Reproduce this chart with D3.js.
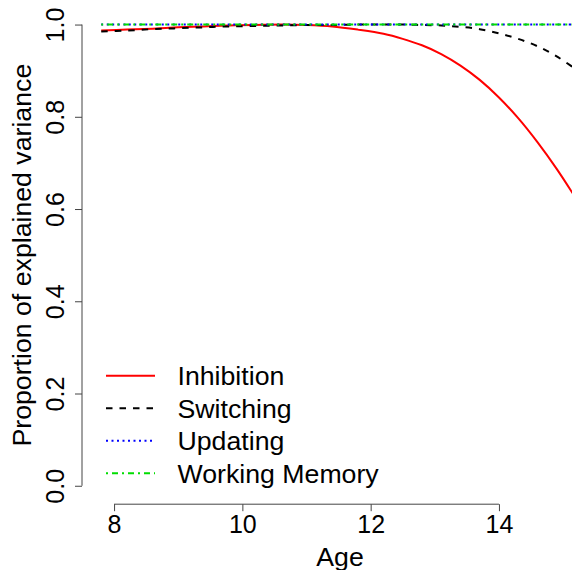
<!DOCTYPE html>
<html>
<head>
<meta charset="utf-8">
<script src="https://cdn.jsdelivr.net/npm/d3@7"></script>
<style>
  html, body { margin: 0; padding: 0; background: #fff; }
  svg { display: block; }
  text { font-family: "Liberation Sans", Arial, Helvetica, sans-serif; fill: #000; }
</style>
</head>
<body>
<svg id="chart" width="572" height="570"></svg>
<script>
// ---- data ----
const ages = [7.8, 8.2, 8.6, 9.0, 9.4, 9.8, 10.2, 10.6, 11.0, 11.4, 11.8, 12.2,
              12.5, 12.8, 13.1, 13.4, 13.7, 14.0, 14.3, 14.6, 14.9, 15.2];
const inhibition = [0.987, 0.989, 0.991, 0.994, 0.996, 0.998, 0.999, 1.000, 0.999, 0.996, 0.989, 0.980,
                    0.969, 0.955, 0.936, 0.911, 0.880, 0.842, 0.797, 0.745, 0.687, 0.623];
const switching = [0.985, 0.987, 0.990, 0.992, 0.994, 0.996, 0.997, 0.998, 0.999, 0.999, 1.000, 1.000,
                   1.000, 0.999, 0.998, 0.995, 0.990, 0.981, 0.969, 0.953, 0.931, 0.903];
const updating = [1.000, 1.000, 1.000, 1.000, 1.000, 1.000, 1.000, 1.000, 1.000, 1.000, 1.000, 1.000,
                  1.000, 1.000, 1.000, 1.000, 1.000, 1.000, 1.000, 1.000, 1.000, 1.000];
const workingMemory = [1.000, 1.000, 1.000, 1.000, 1.000, 1.000, 1.000, 1.000, 1.000, 1.000, 1.000, 1.000,
                       1.000, 1.000, 1.000, 1.000, 1.000, 1.000, 1.000, 1.000, 1.000, 1.000];
const seriesNames = ["Inhibition", "Switching", "Updating", "Working Memory"];
const xTicks = [8, 10, 12, 14];
const yTicks = [0.0, 0.2, 0.4, 0.6, 0.8, 1.0];

// ---- styles ----
const styles = [
  { color: "#ff0000", dash: null },
  { color: "#000000", dash: "6.5,7" },
  { color: "#0000ff", dash: "2,3.5" },
  { color: "#00dd00", dash: "2,4,6,4" }
];
const seriesValues = [inhibition, switching, updating, workingMemory];

const svg = d3.select("#chart");
const plot = { left: 82, right: 608, top: 6.1, bottom: 504.2 };

const x = d3.scaleLinear().domain([7.5, 15.7]).range([plot.left, plot.right]);
const y = d3.scaleLinear().domain([-0.04, 1.04]).range([plot.bottom, plot.top]);

svg.append("defs").append("clipPath").attr("id", "clip")
  .append("rect").attr("x", plot.left).attr("y", plot.top)
  .attr("width", plot.right - plot.left).attr("height", plot.bottom - plot.top);

const line = d3.line()
  .x(d => x(d[0])).y(d => y(d[1]))
  .curve(d3.curveCatmullRom.alpha(0.5));

const gLines = svg.append("g").attr("clip-path", "url(#clip)");
seriesValues.forEach((vals, i) => {
  const pts = ages.map((a, j) => [a, vals[j]]);
  gLines.append("path")
    .attr("d", line(pts))
    .attr("fill", "none")
    .attr("stroke", styles[i].color)
    .attr("stroke-width", 2)
    .attr("stroke-dasharray", styles[i].dash);
});

// ---- axes ----
const axisColor = "#444";
const xAxis = d3.axisBottom(x).tickValues(xTicks).tickSize(7).tickPadding(5)
  .tickFormat(d3.format("d"));
const gx = svg.append("g").attr("transform", `translate(0,${plot.bottom})`).call(xAxis);
gx.select(".domain").remove();
gx.append("line")
  .attr("x1", x(xTicks[0])).attr("x2", x(xTicks[xTicks.length - 1]))
  .attr("y1", 0).attr("y2", 0).attr("stroke", axisColor);
gx.selectAll(".tick line").attr("stroke", axisColor);
gx.selectAll(".tick text")
  .attr("y", 29).attr("dy", null)
  .style("font-size", "25px").style("font-family", "'Liberation Sans', Arial, sans-serif")
  .attr("fill", "#000");

const yAxis = d3.axisLeft(y).tickValues(yTicks).tickSize(7).tickFormat(d3.format(".1f"));
const gy = svg.append("g").attr("transform", `translate(${plot.left},0)`).call(yAxis);
gy.select(".domain").remove();
gy.append("line")
  .attr("x1", 0).attr("x2", 0)
  .attr("y1", y(yTicks[0])).attr("y2", y(yTicks[yTicks.length - 1]))
  .attr("stroke", axisColor);
gy.selectAll(".tick line").attr("stroke", axisColor);
gy.selectAll(".tick text")
  .attr("x", null).attr("dy", null)
  .attr("transform", "translate(-18.5,0) rotate(-90)")
  .attr("text-anchor", "middle")
  .attr("y", 0)
  .style("font-size", "25px").style("font-family", "'Liberation Sans', Arial, sans-serif")
  .attr("fill", "#000");

// ---- axis titles ----
svg.append("text")
  .attr("x", 340).attr("y", 566)
  .attr("text-anchor", "middle")
  .style("font-size", "26.7px")
  .text("Age");

svg.append("text")
  .attr("transform", `translate(31,${(plot.top + plot.bottom) / 2}) rotate(-90)`)
  .attr("text-anchor", "middle")
  .style("font-size", "26.7px")
  .text("Proportion of explained variance");

// ---- legend ----
const legend = svg.append("g");
seriesNames.forEach((name, i) => {
  const ly = 375.8 + i * 32.5;
  legend.append("line")
    .attr("x1", 106).attr("x2", 155).attr("y1", ly).attr("y2", ly)
    .attr("stroke", styles[i].color).attr("stroke-width", 2)
    .attr("stroke-dasharray", styles[i].dash);
  legend.append("text")
    .attr("x", 177.5).attr("y", ly + 9.6)
    .style("font-size", "26.7px")
    .text(name);
});
</script>
</body>
</html>
